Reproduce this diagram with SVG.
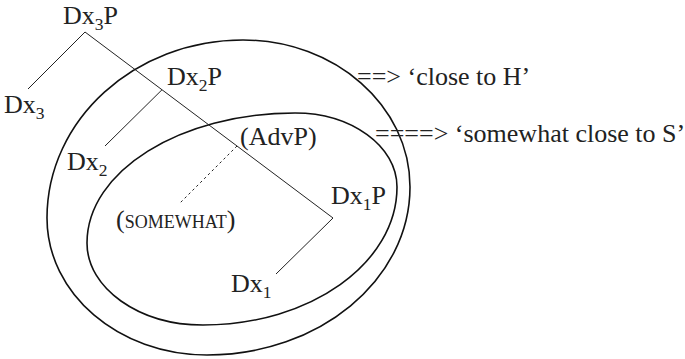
<svg xmlns="http://www.w3.org/2000/svg" width="685" height="359" viewBox="0 0 685 359">
<style>
text{font-family:"Liberation Serif","Times New Roman",serif;font-size:26px;fill:#222}
.sub{font-size:17.5px}
.sc{font-size:18px}
.ell{fill:none;stroke:#111;stroke-width:1.6}
.edge{fill:none;stroke:#222;stroke-width:1}
.dot{fill:none;stroke:#222;stroke-width:1;stroke-dasharray:2.5 3}
</style>
<rect width="685" height="359" fill="#fff"/>
<g id="regions">
<path class="ell" d="M243,40 C335.2,40 410,105.8 410,187 C410,279.8 319.1,355 207,355 C118.6,355 47,293.7 47,218 C47,119.7 134.8,40 243,40 Z"/>
<path class="ell" d="M295,113 C351.3,113 397,146.1 397,187 C397,263.2 310.1,325 203,325 C138.9,325 87,288.3 87,243 C87,171.2 180.1,113 295,113 Z"/>
</g>
<g id="connectors">
<line class="edge" x1="85" y1="32" x2="28" y2="89"/>
<line class="edge" x1="85" y1="32" x2="333" y2="218"/>
<line class="edge" x1="162" y1="89.75" x2="105" y2="146"/>
<line class="dot" x1="237" y1="146" x2="180" y2="203"/>
<line class="edge" x1="333" y1="218" x2="276" y2="274"/>
</g>
<g id="Dx3P"><text x="63" y="24">Dx<tspan class="sub" dy="6">3</tspan><tspan dy="-6">P</tspan></text></g>
<g id="Dx3"><text x="4" y="113">Dx<tspan class="sub" dy="6">3</tspan></text></g>
<g id="Dx2P"><text x="167" y="85">Dx<tspan class="sub" dy="6">2</tspan><tspan dy="-6">P</tspan></text></g>
<g id="Dx2"><text x="67" y="170">Dx<tspan class="sub" dy="6">2</tspan></text></g>
<g id="AdvP"><text x="240" y="145">(AdvP)</text></g>
<g id="SOMEWHAT"><text x="116" y="228">(<tspan class="sc">SOMEWHAT</tspan>)</text></g>
<g id="Dx1P"><text x="331" y="204">Dx<tspan class="sub" dy="6">1</tspan><tspan dy="-6">P</tspan></text></g>
<g id="Dx1"><text x="231" y="292">Dx<tspan class="sub" dy="6">1</tspan></text></g>
<g id="closeH"><text x="357" y="85">==&gt; ‘close to H’</text></g>
<g id="closeS"><text x="375" y="142">====&gt; ‘somewhat close to S’</text></g>
</svg>
